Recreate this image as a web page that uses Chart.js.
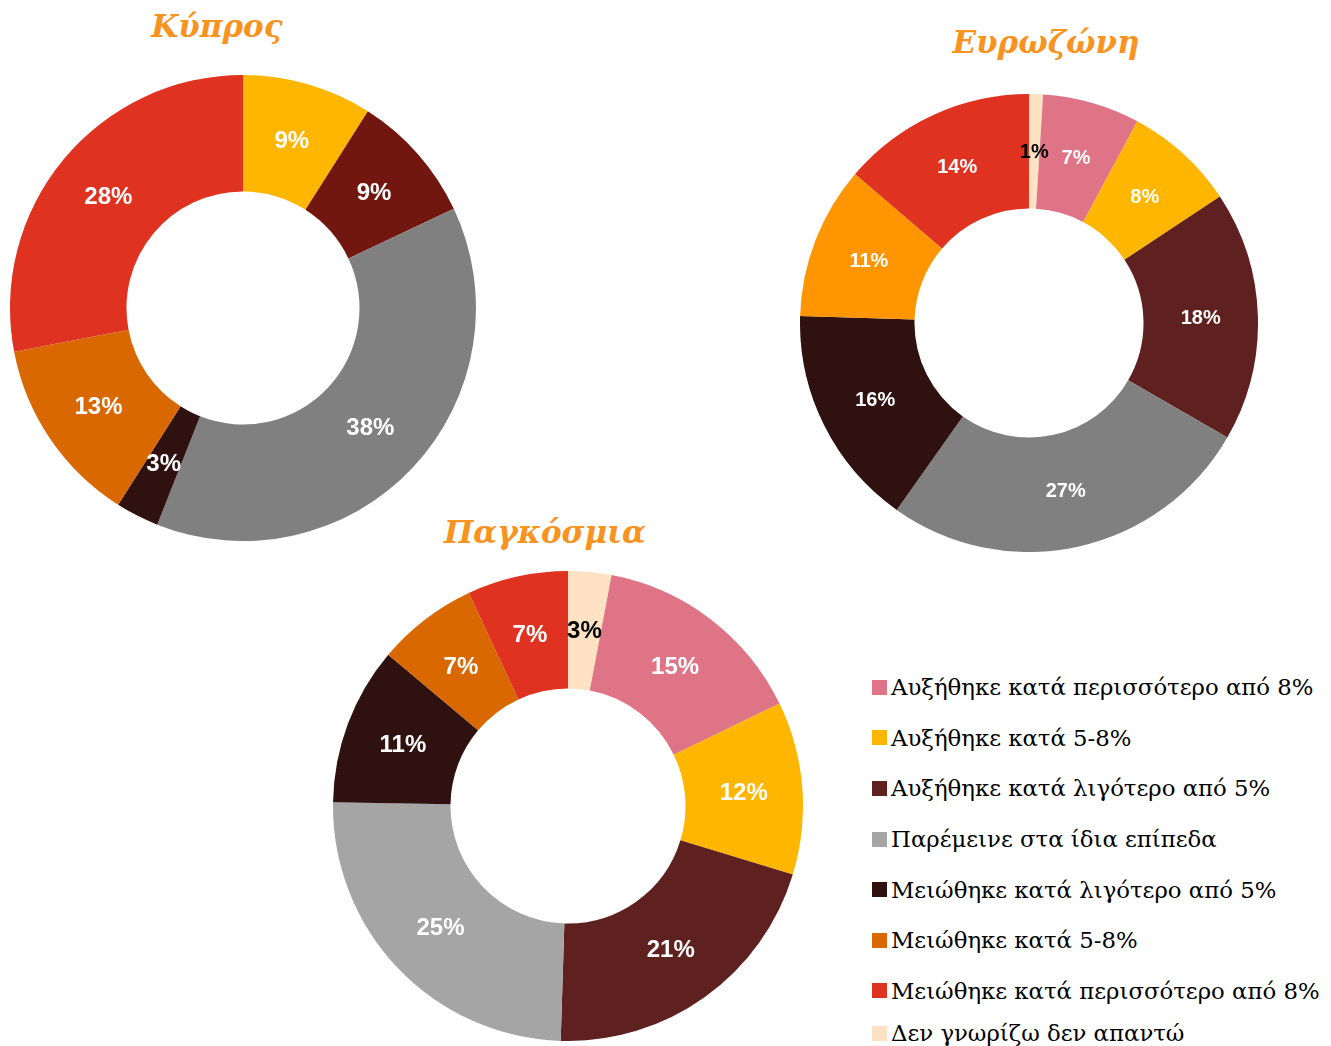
<!DOCTYPE html>
<html lang="el">
<head>
<meta charset="utf-8">
<title>Κύπρος / Ευρωζώνη / Παγκόσμια</title>
<script src="https://cdn.jsdelivr.net/npm/chart.js@4.4.1/dist/chart.umd.min.js"></script>
<style>
    html, body { margin: 0; padding: 0; background: #fff; }
    body { width: 1331px; height: 1046px; overflow: hidden; position: relative; }
    .box { position: absolute; }
    .title {
        position: absolute;
        transform: translateX(-50%);
        font-family: 'DejaVu Serif', serif;
        font-weight: bold;
        font-style: italic;
        font-size: 31px;
        line-height: 1;
        color: #F7931E;
        white-space: nowrap;
    }
    #legend {
        position: absolute;
        left: 872px;
        top: 662px;
        font-family: 'DejaVu Serif', serif;
        font-size: 22.8px;
        color: #000;
    }
    .leg-item { display: flex; align-items: center; height: 50.6px; white-space: nowrap; }
    .leg-item:last-child { margin-top: -8px; }
    .leg-sq { width: 15px; height: 15px; margin-right: 4px; flex: none; }
</style>
</head>
<body>

<div class="title" style="left:217px; top:11px;">Κύπρος</div>
<div class="title" style="left:1046px; top:27px;">Ευρωζώνη</div>
<div class="title" style="left:545px; top:517px;">Παγκόσμια</div>

<div class="box" style="left:10px; top:75px; width:466px; height:466px;"><canvas id="chartCyprus"></canvas></div>
<div class="box" style="left:800px; top:94px; width:458px; height:458px;"><canvas id="chartEuro"></canvas></div>
<div class="box" style="left:333px; top:571px; width:470px; height:470px;"><canvas id="chartWorld"></canvas></div>

<div id="legend"></div>

<script>
'use strict';

// ─────────────────────────────────────────────────────────────────────────────
// DONNÉES — ordre des tranches (sens horaire depuis midi)
// ─────────────────────────────────────────────────────────────────────────────

var categories = [
    'Δεν γνωρίζω δεν απαντώ',
    'Αυξήθηκε κατά περισσότερο από 8%',
    'Αυξήθηκε κατά 5-8%',
    'Αυξήθηκε κατά λιγότερο από 5%',
    'Παρέμεινε στα ίδια επίπεδα',
    'Μειώθηκε κατά λιγότερο από 5%',
    'Μειώθηκε κατά 5-8%',
    'Μειώθηκε κατά περισσότερο από 8%'
];

// ordre de la légende (indices dans categories)
var legendOrder = [1, 2, 3, 4, 5, 6, 7, 0];

var cyprusValues = [0, 0, 9, 9, 38, 3, 13, 28];
var euroValues = [1, 7, 8, 18, 27, 16, 11, 14];
var worldValues = [3, 15, 12, 21, 25, 11, 7, 7];

var COLORS = {
    peach: '#FFE1C4',
    pink: '#E07487',
    gold: '#FFB600',
    brown: '#5F2120',
    brownRed: '#72170F',
    grey: '#808080',
    greyLight: '#A5A5A5',
    dark: '#2F1210',
    orange: '#DA6800',
    orangeBright: '#FF9500',
    red: '#E03220'
};

var cyprusColors = [COLORS.peach, COLORS.pink, COLORS.gold, COLORS.brownRed, COLORS.grey, COLORS.dark, COLORS.orange, COLORS.red];
var euroColors = [COLORS.peach, COLORS.pink, COLORS.gold, COLORS.brown, COLORS.grey, COLORS.dark, COLORS.orangeBright, COLORS.red];
var worldColors = [COLORS.peach, COLORS.pink, COLORS.gold, COLORS.brown, COLORS.greyLight, COLORS.dark, COLORS.orange, COLORS.red];

var labelColors = ['#000', '#fff', '#fff', '#fff', '#fff', '#fff', '#fff', '#fff'];

// ─────────────────────────────────────────────────────────────────────────────
// Plugin : pourcentages au centre de chaque tranche
// ─────────────────────────────────────────────────────────────────────────────

var arcLabels = {
    id: 'arcLabels',
    afterDatasetsDraw: function(chart, args, opts) {
        var ctx = chart.ctx;
        var meta = chart.getDatasetMeta(0);
        var values = chart.data.datasets[0].data;
        ctx.save();
        ctx.font = 'bold ' + opts.size + 'px "Liberation Sans", Arial, sans-serif';
        ctx.textAlign = 'center';
        ctx.textBaseline = 'middle';
        meta.data.forEach(function(arc, i) {
            if (!values[i]) return;
            var p = arc.tooltipPosition();
            ctx.fillStyle = labelColors[i];
            ctx.fillText(values[i] + '%', p.x, p.y + 1);
        });
        ctx.restore();
    }
};

function initDonut(id, values, colors, size) {
    var ctx = document.getElementById(id);
    if (!ctx) return null;

    return new Chart(ctx, {
        type: 'doughnut',
        data: {
            labels: categories,
            datasets: [{
                data: values,
                backgroundColor: colors,
                borderWidth: 0,
                hoverBorderWidth: 0,
                hoverOffset: 0,
                offset: 0
            }]
        },
        options: {
            responsive: true,
            maintainAspectRatio: false,
            animation: false,
            events: [],
            cutout: '50%',
            layout: { padding: 0 },
            plugins: {
                legend: { display: false },
                tooltip: { enabled: false },
                arcLabels: { size: size }
            }
        },
        plugins: [arcLabels]
    });
}

function buildLegend() {
    var legend = document.getElementById('legend');
    var html = '';
    legendOrder.forEach(function(i) {
        html += '<div class="leg-item">'
            + '<span class="leg-sq" style="background:' + worldColors[i] + '"></span>'
            + categories[i]
            + '</div>';
    });
    legend.innerHTML = html;
}

initDonut('chartCyprus', cyprusValues, cyprusColors, 24);
initDonut('chartEuro', euroValues, euroColors, 20);
initDonut('chartWorld', worldValues, worldColors, 24);
buildLegend();
</script>
</body>
</html>
